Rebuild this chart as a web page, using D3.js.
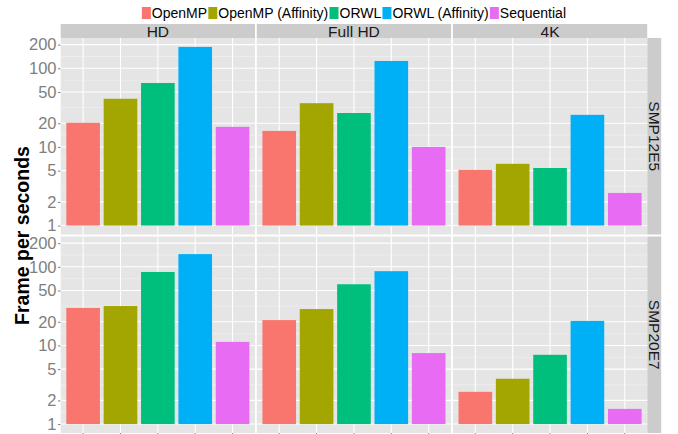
<!DOCTYPE html>
<html>
<head>
<meta charset="utf-8">
<script src="https://cdn.jsdelivr.net/npm/d3@7"></script>
<style>
  html, body { margin: 0; padding: 0; background: #fff; }
  svg { display: block; font-family: "Liberation Sans", Arial, Helvetica, sans-serif; }
</style>
</head>
<body>
<svg id="chart" width="678" height="434"></svg>
<script>
// ---------- data ----------
const categories = ["OpenMP", "OpenMP (Affinity)", "ORWL", "ORWL (Affinity)", "Sequential"];
const colors = ["#F8766D", "#A3A500", "#00BF7D", "#00B0F6", "#E76BF3"];
const resolutions = ["HD", "Full HD", "4K"];
const machines = ["SMP12E5", "SMP20E7"];

const smp12e5HD     = [20.3, 41, 65, 187, 18];
const smp12e5FullHD = [16, 36, 27, 124, 10];
const smp12e5_4K    = [5.1, 6.1, 5.4, 25.6, 2.6];
const smp20e7HD     = [30, 31.7, 86, 145, 11.1];
const smp20e7FullHD = [21, 29, 60, 88, 8.0];
const smp20e7_4K    = [2.57, 3.77, 7.6, 20.5, 1.56];

const yTicks = [1, 2, 5, 10, 20, 50, 100, 200];
const yTitle = "Frame per seconds";

const values = [
  [smp12e5HD, smp12e5FullHD, smp12e5_4K],
  [smp20e7HD, smp20e7FullHD, smp20e7_4K]
];

// ---------- layout ----------
const svg = d3.select("#chart");
const panelLeft = 60.7, panelW = 194.3, panelGapX = 1.8;
const panelTop = 38, panelH = 196.5, panelGapY = 2;
const stripH = 14, stripW = 14;

// log scale domain with 5% expansion (in log space)
const allVals = values.flat(2);
const lo = 0, hi = Math.log10(d3.max(allVals));
const pad = 0.05 * (hi - lo);
const yDomain = [Math.pow(10, lo - pad), Math.pow(10, hi + pad)];

// minor breaks at midpoints (log space) between majors
const logT = yTicks.map(Math.log10);
const minorTicks = [];
for (let i = 0; i < logT.length - 1; i++) minorTicks.push(Math.pow(10, (logT[i] + logT[i + 1]) / 2));

const textGrey = "#7F7F7F";

// top strips
resolutions.forEach((r, j) => {
  const x0 = panelLeft + j * (panelW + panelGapX);
  svg.append("rect").attr("x", x0).attr("y", panelTop - stripH).attr("width", panelW).attr("height", stripH).attr("fill", "#CCCCCC");
  svg.append("text").attr("x", x0 + panelW / 2).attr("y", panelTop - stripH / 2).attr("dy", "0.36em")
    .attr("text-anchor", "middle").attr("font-size", 15.5).attr("fill", "#1A1A1A").text(r);
});

machines.forEach((m, i) => {
  const y0 = panelTop + i * (panelH + panelGapY);
  const y = d3.scaleLog().domain(yDomain).range([y0 + panelH, y0]);

  // right strip
  const sx = panelLeft + 3 * panelW + 2 * panelGapX;
  svg.append("rect").attr("x", sx).attr("y", y0).attr("width", stripW).attr("height", panelH).attr("fill", "#CCCCCC");
  svg.append("text").attr("transform", `translate(${sx + stripW / 2},${y0 + panelH / 2}) rotate(90)`)
    .attr("dy", "0.36em").attr("text-anchor", "middle").attr("font-size", 15.5).attr("fill", "#1A1A1A").text(m);

  // y axis
  const yAxis = d3.axisLeft(y).tickValues(yTicks).tickFormat(d3.format("d")).tickSize(2.7).tickPadding(1.5);
  const ga = svg.append("g").attr("transform", `translate(${panelLeft},0)`).call(yAxis);
  ga.select(".domain").remove();
  ga.selectAll("line").attr("stroke", textGrey).attr("stroke-width", 1);
  ga.selectAll("text").attr("fill", textGrey).attr("font-size", 16.5).attr("font-family", "Liberation Sans, Arial, sans-serif");

  resolutions.forEach((r, j) => {
    const x0 = panelLeft + j * (panelW + panelGapX);
    const x = d3.scaleBand().domain(categories).range([x0, x0 + panelW]).paddingInner(0.1).paddingOuter(0.15);
    const g = svg.append("g");
    g.append("rect").attr("x", x0).attr("y", y0).attr("width", panelW).attr("height", panelH).attr("fill", "#E5E5E5");
    // minor grid
    g.selectAll(".minor").data(minorTicks).enter().append("line")
      .attr("x1", x0).attr("x2", x0 + panelW).attr("y1", d => y(d)).attr("y2", d => y(d))
      .attr("stroke", "#F2F2F2").attr("stroke-width", 0.6);
    // major grid
    g.selectAll(".major").data(yTicks).enter().append("line")
      .attr("x1", x0).attr("x2", x0 + panelW).attr("y1", d => y(d)).attr("y2", d => y(d))
      .attr("stroke", "#FFFFFF").attr("stroke-width", 1.1);
    g.selectAll(".vmajor").data(categories).enter().append("line")
      .attr("x1", d => x(d) + x.bandwidth() / 2).attr("x2", d => x(d) + x.bandwidth() / 2)
      .attr("y1", y0).attr("y2", y0 + panelH).attr("stroke", "#FFFFFF").attr("stroke-width", 1.1);
    // bars
    g.selectAll(".bar").data(values[i][j]).enter().append("rect")
      .attr("x", (d, k) => x(categories[k])).attr("width", x.bandwidth())
      .attr("y", d => y(d)).attr("height", d => y(1) - y(d))
      .attr("fill", (d, k) => colors[k]);
    // x ticks at bottom
    if (i === machines.length - 1) {
      const xAxis = d3.axisBottom(x).tickSize(2.7).tickFormat("");
      const gx = svg.append("g").attr("transform", `translate(0,${y0 + panelH})`).call(xAxis);
      gx.select(".domain").remove();
      gx.selectAll("line").attr("stroke", textGrey);
    }
  });
});

// y title
svg.append("text")
  .attr("transform", `translate(22,${panelTop + panelH + panelGapY / 2}) rotate(-90)`)
  .attr("text-anchor", "middle").attr("dy", "0.36em")
  .attr("font-size", 19.5).attr("font-weight", "bold").attr("fill", "#000").text(yTitle);

// legend
const leg = svg.append("g");
const keyW = 9, keyH = 12;
let cx = 0;
categories.forEach((c, k) => {
  leg.append("rect").attr("x", cx).attr("y", 7).attr("width", keyW).attr("height", keyH).attr("fill", colors[k]);
  const t = leg.append("text").attr("x", cx + keyW + 1).attr("y", 13).attr("dy", "0.36em")
    .attr("font-size", 14).attr("fill", "#000").text(c);
  cx += keyW + 1 + t.node().getComputedTextLength() + 1.2;
});
const legW = cx - 1.2;
const centerX = panelLeft + (3 * panelW + 2 * panelGapX) / 2;
leg.attr("transform", `translate(${centerX - legW / 2},0)`);
</script>
</body>
</html>
